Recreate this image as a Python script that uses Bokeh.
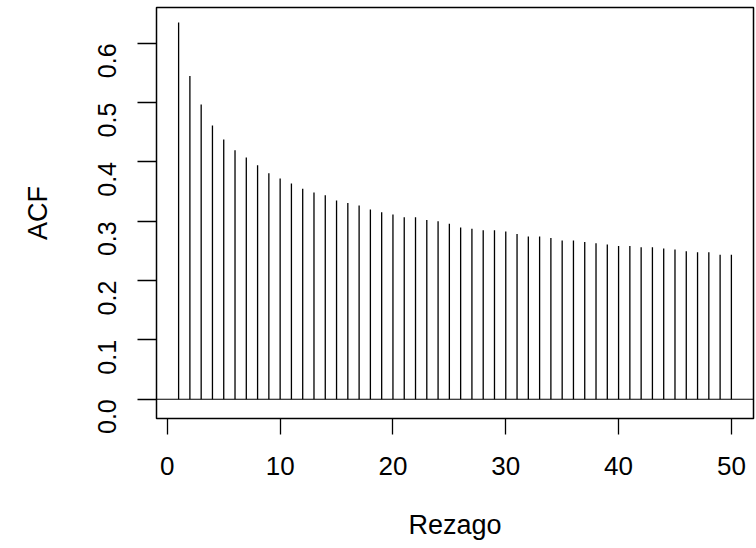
import math
from bokeh.plotting import figure
from bokeh.models import Range1d, FixedTicker, LinearAxis, CustomJSTickFormatter
from bokeh.embed import file_html
from bokeh.resources import INLINE

lags = list(range(1, 51))
acf = [0.635, 0.545, 0.497, 0.4615, 0.438, 0.420, 0.4075, 0.3946, 0.381, 0.372,
       0.3637, 0.3547, 0.3485, 0.344, 0.335, 0.331, 0.3266, 0.320, 0.3153, 0.3114,
       0.3069, 0.3069, 0.3022, 0.300, 0.296, 0.2895, 0.2873, 0.285, 0.285, 0.2828,
       0.2788, 0.2743, 0.2743, 0.272, 0.2676, 0.2676, 0.2653, 0.263, 0.2608, 0.2585,
       0.2585, 0.2563, 0.2563, 0.254, 0.2524, 0.2496, 0.2479, 0.2479, 0.2434, 0.2434]
x_ticks = [0, 10, 20, 30, 40, 50]
y_ticks = [0.0, 0.1, 0.2, 0.3, 0.4, 0.5, 0.6]
x_title = "Rezago"
y_title = "ACF"

FONT = "Liberation Sans"

p = figure(width=756, height=548, output_backend="svg", toolbar_location=None,
           x_range=Range1d(-0.96, 51.96), y_range=Range1d(-0.0325, 0.6605),
           min_border_left=156, min_border_right=3, min_border_top=7, min_border_bottom=130,
           x_axis_location=None, y_axis_location=None)
p.background_fill_color = "white"
p.border_fill_color = "white"
p.outline_line_color = "black"
p.outline_line_width = 1.5
p.xgrid.visible = False
p.ygrid.visible = False

p.segment(x0=lags, y0=[0] * len(lags), x1=lags, y1=acf, line_color="black", line_width=1.3)
p.segment(x0=[-5], y0=[0], x1=[60], y1=[0], line_color="black", line_width=1.2)

xa = LinearAxis(ticker=FixedTicker(ticks=x_ticks), axis_label=x_title)
xa.axis_line_color = None
xa.major_tick_out = 16
xa.major_tick_in = 0
xa.major_tick_line_width = 1.3
xa.minor_tick_line_color = None
xa.major_label_text_font = FONT
xa.major_label_text_font_size = "26px"
xa.major_label_text_color = "black"
xa.major_label_standoff = 22
xa.axis_label_text_font = FONT
xa.axis_label_text_font_size = "27px"
xa.axis_label_text_font_style = "normal"
xa.axis_label_text_color = "black"
xa.axis_label_standoff = 32
p.add_layout(xa, "below")

ya = LinearAxis(ticker=FixedTicker(ticks=y_ticks), axis_label=y_title)
ya.formatter = CustomJSTickFormatter(code="return tick.toFixed(1);")
ya.axis_line_color = None
ya.major_tick_out = 19
ya.major_tick_in = 0
ya.major_tick_line_width = 1.3
ya.minor_tick_line_color = None
ya.major_label_orientation = math.pi / 2
ya.major_label_text_font = FONT
ya.major_label_text_font_size = "25px"
ya.major_label_text_color = "black"
ya.major_label_standoff = 30
ya.axis_label_text_font = FONT
ya.axis_label_text_font_size = "27px"
ya.axis_label_text_font_style = "normal"
ya.axis_label_text_color = "black"
ya.axis_label_standoff = 34
p.add_layout(ya, "left")

open("out.html", "w").write(file_html(p, INLINE))
